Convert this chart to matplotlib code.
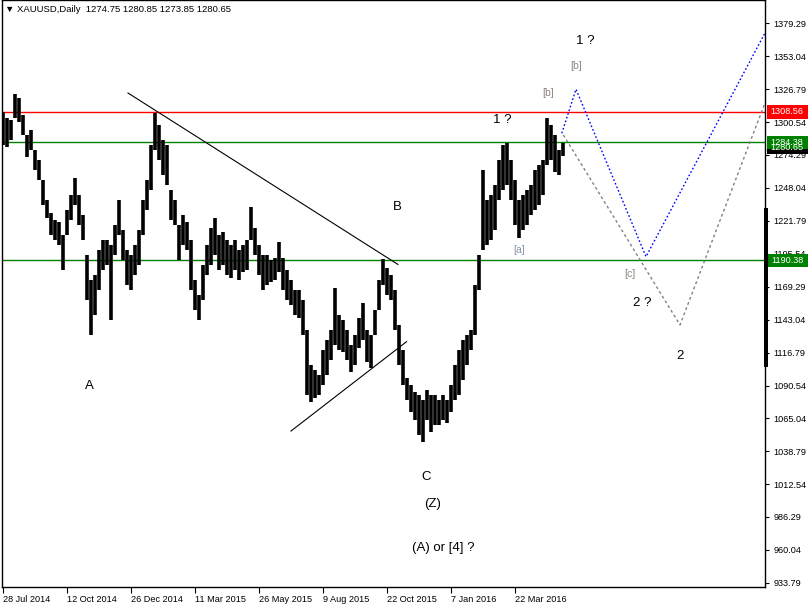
import matplotlib
matplotlib.use("Agg")
import matplotlib.pyplot as plt
import matplotlib.transforms as mtransforms
from matplotlib.patches import Rectangle

# ---------------- data ----------------
header_text = "\u25bc XAUUSD,Daily  1274.75 1280.85 1273.85 1280.65"

highs = [
    1308.5, 1303.7, 1302.1, 1322.8, 1319.6, 1306.1, 1290.2, 1294.2, 1278.3, 1270.3,
    1254.4, 1238.5, 1228.2, 1222.6, 1221.0, 1210.7, 1230.5, 1242.5, 1255.9, 1242.5,
    1226.6, 1194.7, 1174.9, 1178.8, 1198.7, 1206.7, 1206.7, 1202.7, 1218.6, 1238.5,
    1214.6, 1198.7, 1194.7, 1202.7, 1214.6, 1238.5, 1254.4, 1282.3, 1307.7, 1298.2,
    1286.2, 1282.3, 1246.5, 1238.5, 1218.6, 1226.6, 1221.0, 1206.7, 1174.9, 1162.9,
    1186.8, 1202.7, 1216.2, 1224.2, 1210.7, 1213.0, 1206.7, 1202.7, 1206.7, 1198.7,
    1202.7, 1206.7, 1232.9, 1216.2, 1202.7, 1194.7, 1194.7, 1190.8, 1192.4, 1205.1,
    1192.4, 1182.8, 1174.9, 1166.9, 1166.9, 1158.9, 1135.1, 1107.2, 1103.3, 1099.3,
    1119.2, 1127.1, 1135.1, 1168.5, 1147.0, 1143.0, 1135.1, 1123.2, 1131.1, 1144.6,
    1156.6, 1135.1, 1131.1, 1151.0, 1174.9, 1191.6, 1184.4, 1178.8, 1166.9, 1139.1,
    1119.2, 1096.9, 1091.4, 1085.8, 1083.4, 1079.4, 1087.4, 1083.4, 1083.4, 1079.4,
    1083.4, 1079.4, 1091.4, 1107.2, 1119.2, 1127.1, 1131.1, 1135.1, 1170.9, 1194.7,
    1262.4, 1238.5, 1242.5, 1250.4, 1270.3, 1282.3, 1283.8, 1270.3, 1254.4, 1238.5,
    1242.5, 1246.5, 1250.4, 1262.4, 1266.3, 1270.3, 1303.7, 1298.2, 1290.2, 1278.3,
    1284.0,
]
lows = [
    1282.3, 1280.7, 1286.2, 1303.7, 1300.5, 1290.2, 1272.7, 1278.3, 1262.4, 1254.4,
    1234.5, 1224.2, 1210.7, 1206.7, 1202.7, 1182.8, 1210.7, 1222.6, 1234.5, 1218.6,
    1206.7, 1158.9, 1131.1, 1147.0, 1166.9, 1182.8, 1186.8, 1143.0, 1194.7, 1210.7,
    1190.8, 1170.9, 1166.9, 1178.8, 1186.8, 1210.7, 1230.5, 1246.5, 1278.3, 1270.3,
    1258.4, 1250.4, 1222.6, 1218.6, 1190.8, 1202.7, 1198.7, 1166.9, 1151.0, 1143.0,
    1158.9, 1178.8, 1186.8, 1194.7, 1182.8, 1186.8, 1178.8, 1176.3, 1182.8, 1174.9,
    1181.2, 1182.8, 1206.7, 1194.7, 1178.8, 1166.9, 1170.9, 1173.3, 1174.9, 1181.2,
    1166.9, 1158.9, 1155.0, 1147.0, 1144.6, 1131.1, 1083.4, 1077.8, 1081.0, 1083.4,
    1091.4, 1099.3, 1111.2, 1123.2, 1119.2, 1117.6, 1111.2, 1101.7, 1107.2, 1120.8,
    1127.1, 1109.6, 1104.9, 1131.1, 1151.0, 1170.9, 1162.9, 1158.9, 1135.1, 1107.2,
    1091.4, 1079.4, 1069.9, 1063.5, 1051.6, 1046.0, 1063.5, 1054.0, 1059.5, 1059.5,
    1063.5, 1061.1, 1069.9, 1079.4, 1083.4, 1095.3, 1107.2, 1119.2, 1131.1, 1166.9,
    1198.7, 1202.7, 1206.7, 1214.6, 1238.5, 1246.5, 1250.4, 1238.5, 1218.6, 1208.3,
    1214.6, 1218.6, 1226.6, 1230.5, 1234.5, 1242.5, 1266.3, 1270.3, 1260.8, 1258.4,
    1273.85,
]

date_labels = ["28 Jul 2014", "12 Oct 2014", "26 Dec 2014", "11 Mar 2015",
               "26 May 2015", "9 Aug 2015", "22 Oct 2015", "7 Jan 2016", "22 Mar 2016"]
date_positions = [0, 16, 32, 48, 64, 80, 96, 112, 128]

price_ticks = [1379.29, 1353.04, 1326.79, 1300.54, 1274.29, 1248.04, 1221.79,
               1195.54, 1169.29, 1143.04, 1116.79, 1090.54, 1065.04, 1038.79,
               1012.54, 986.29, 960.04, 933.79]

resistance_level = 1308.56
support_levels = [1284.38, 1190.38]
last_price = 1280.65

trend_upper_x = [31.25, 98.75]
trend_upper_y = [1323.6, 1187.2]
trend_lower_x = [72.0, 100.9]
trend_lower_y = [1054.7, 1125.8]

proj_blue_x = [139.7, 143.25, 160.75, 190.5]
proj_blue_y = [1291.6, 1326.6, 1193.4, 1371.4]
proj_gray_x = [140.1, 169.25, 190.5]
proj_gray_y = [1290.2, 1139.1, 1315.7]

wave_texts = ["A", "B", "C", "(Z)", "(A) or [4] ?", "1 ?", "1 ?", "2 ?", "2"]
wave_x = [21.5, 98.5, 105.75, 107.5, 110.0, 124.75, 145.5, 159.75, 169.25]
wave_y = [1090.5, 1232.9, 1018.1, 996.7, 961.7, 1302.1, 1365.0, 1156.6, 1114.4]

sub_texts = ["[a]", "[b]", "[b]", "[c]"]
sub_x = [129.0, 136.25, 143.25, 156.75]
sub_y = [1198.7, 1323.6, 1345.1, 1179.6]
sub_colors = ["#8797a8", "#8c8580", "#8c8580", "#8c8580"]

# ---------------- figure ----------------
W, H = 808, 607
fig = plt.figure(figsize=(W / 100, H / 100), dpi=100)
fig.patch.set_facecolor("white")
ax = fig.add_axes([2 / W, (H - 587) / H, (765 - 2) / W, 587 / H])
ax.set_facecolor("white")
ax.set_xlim(-0.25, 190.5)
ax.set_ylim(930.6, 1397.6)

font = "Liberation Sans"

# horizontal levels
ax.axhline(resistance_level, color="#ff0000", lw=1.0, zorder=1)
for lv in support_levels:
    ax.axhline(lv, color="#008000", lw=1.0, zorder=1)

# price bars
idx = list(range(len(highs)))
ax.vlines(idx, lows, highs, color="black", lw=2.6, zorder=3)

# trend lines
ax.plot(trend_upper_x, trend_upper_y, color="black", lw=0.8, zorder=4)
ax.plot(trend_lower_x, trend_lower_y, color="black", lw=0.8, zorder=4)

# projections
ax.plot(proj_blue_x, proj_blue_y, color="#0000ff", lw=1.0, ls=(0, (1.2, 1.6)), zorder=4)
ax.plot(proj_gray_x, proj_gray_y, color="#808080", lw=1.0, ls=(0, (2.0, 2.0)), zorder=4)

for t, x, y in zip(wave_texts, wave_x, wave_y):
    ax.text(x, y, t, fontsize=9.5, family=font, color="black", ha="center", va="center", zorder=5)
for t, x, y, c in zip(sub_texts, sub_x, sub_y, sub_colors):
    ax.text(x, y, t, fontsize=7.5, family=font, color=c, ha="center", va="center", zorder=5)

# axes styling
for s in ax.spines.values():
    s.set_color("black")
    s.set_linewidth(1.0)
ax.yaxis.tick_right()
ax.set_yticks(price_ticks)
ax.set_yticklabels([f"{p:.2f}" for p in price_ticks], family=font, fontsize=6.6)
ax.tick_params(axis="y", direction="out", length=3, pad=3, width=0.8, colors="black")
ax.set_xticks(date_positions)
ax.set_xticklabels(date_labels, family=font, fontsize=6.6)
for lab in ax.get_xticklabels():
    lab.set_horizontalalignment("left")
ax.tick_params(axis="x", direction="out", length=4, pad=1.5, width=0.8, colors="black")

# right-side price labels
trans = mtransforms.blended_transform_factory(ax.transAxes, ax.transData)
bw = 41 / 763
bh = 10.5
def price_box(p, color):
    ax.add_patch(Rectangle((1.002, p - bh / 2), bw, bh, transform=trans, facecolor=color,
                           edgecolor="none", clip_on=False, zorder=10))
    ax.text(1.002 + bw / 2, p, f"{p:.2f}", transform=trans, color="white", fontsize=6.6,
            family=font, ha="center", va="center", clip_on=False, zorder=11)

price_box(last_price, "black")
price_box(support_levels[0], "#008000")
price_box(support_levels[1], "#008000")
price_box(resistance_level, "#ff0000")

# thick scale marker on right border
fig.add_artist(Rectangle((764 / W, (H - 367) / H), 4 / W, (367 - 208) / H,
                         transform=fig.transFigure, facecolor="black", edgecolor="none"))

fig.text(5 / W, 1 - 10 / H, header_text, fontsize=6.8, family=[font, "DejaVu Sans"],
         ha="left", va="center", color="black")

fig.savefig("out.png", dpi=100)
